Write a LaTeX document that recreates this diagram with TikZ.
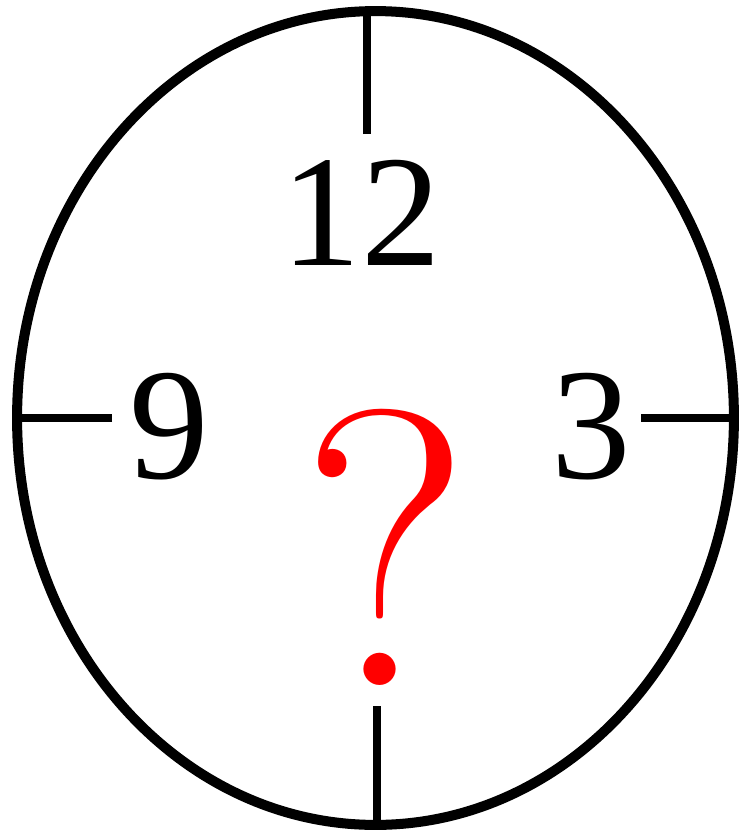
\documentclass[tikz,border=0pt]{standalone}
\usepackage{fontspec}
\newfontfamily\timesfont{Liberation Serif}
\usepackage{xcolor}
\usetikzlibrary{
  positioning,
  shapes.geometric
}

\begin{document}
\begin{tikzpicture}[
  x=0.02cm, y=-0.02cm,
  rim/.style={
    draw=black,
    ellipse,
    line width=5.7pt,
    inner sep=0pt,
    outer sep=0pt,
    minimum width=14.34cm,
    minimum height=16.28cm
  },
  hourtick/.style={
    draw=black,
    line width=4.6pt
  },
  hour/.style={
    anchor=base,
    inner sep=0pt,
    font=\timesfont\fontsize{90.5}{90.5}\selectfont
  },
  quest/.style={
    anchor=base,
    inner sep=0pt,
    text=red,
    font=\fontsize{224}{224}\selectfont
  }
]
\useasboundingbox (0,0) rectangle (742,833);

% Clock face
\node[rim] (face) at (375.5,418) {};

% Hour ticks
\coordinate (t12) at (367,134);
\coordinate (t6) at (377,706);
\coordinate (t9) at (112,418);
\coordinate (t3) at (641,418);
\draw[hourtick] (t12) -- (t12 |- face.north);
\draw[hourtick] (t6) -- (t6 |- face.south);
\draw[hourtick] (t9) -- (face.west |- t9);
\draw[hourtick] (t3) -- (face.east |- t3);

% Numbers
\node[hour] (n12) at (361,265) {12};
\node[hour] (n9) at (169,478) {9};
\node[hour] (n3) at (591,478) {3};

% Question mark
\node[quest] (qmark) at (386,685) {?};

\end{tikzpicture}
\end{document}
